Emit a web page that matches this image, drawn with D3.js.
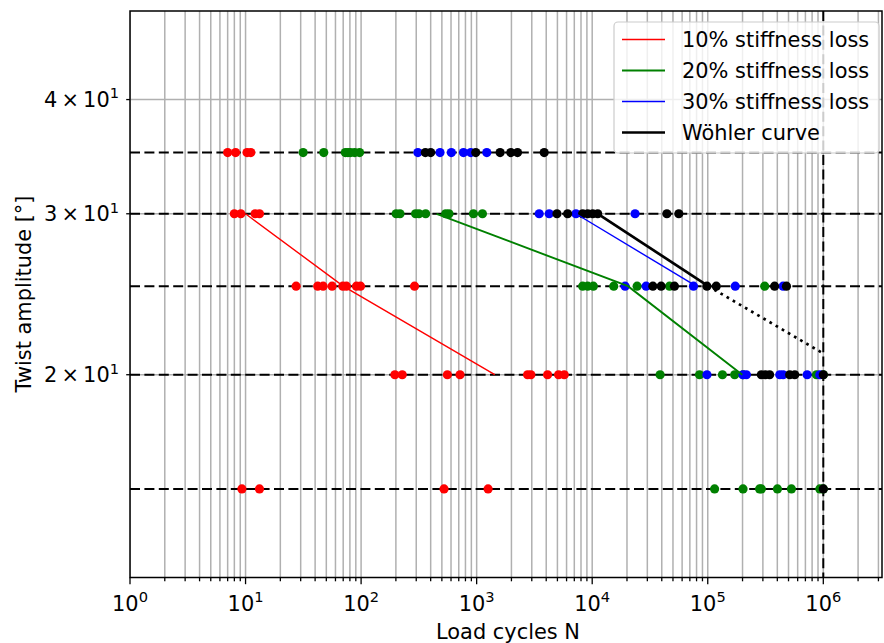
<!DOCTYPE html>
<html>
<head>
<meta charset="utf-8">
<script src="https://cdn.jsdelivr.net/npm/d3@7"></script>
<style>
  html, body { margin: 0; padding: 0; background: #fff; }
  svg { display: block; font-family: "DejaVu Sans", sans-serif; }
</style>
</head>
<body>
<svg id="chart" width="884" height="643"></svg>
<script>
// ---------------- data ----------------
const stressLevels = [35, 30, 25, 20, 15];          // dashed reference rows
const runoutN = 1e6;                               // vertical dashed line
const xTickExponents = [0, 1, 2, 3, 4, 5, 6];
const yTickValues = [20, 30, 40];
const yTickMantissa = ["2", "3", "4"];

// points [N, amplitude]
const loss10 = [
  [7.0,35],[8.2,35],[10.3,35],[11.1,35],
  [8.0,30],[9.1,30],[12.1,30],[13.2,30],
  [27.4,25],[42.1,25],[46.9,25],[56.1,25],[69.5,25],[74.7,25],[91.2,25],[98.8,25],[290,25],
  [196,20],[227,20],[558,20],[718,20],[2760,20],[2945,20],[4110,20],[5120,20],[5730,20],
  [9.3,15],[13.2,15],[522,15],[1256,15]
];
const loss20 = [
  [31.5,35],[47.5,35],[73,35],[77,35],[81,35],[88,35],[97,35],
  [201,30],[217,30],[296,30],[317,30],[362,30],[540,30],[576,30],[938,30],[1122,30],
  [8270,25],[9140,25],[10230,25],[15360,25],[24480,25],[46700,25],[311000,25],
  [38700,20],[84900,20],[134000,20],[171000,20],[202000,20],[873000,20],[1000000,20],
  [114600,15],[202000,15],[281000,15],[291000,15],[401000,15],[530000,15],[933000,15],[1000000,15]
];
const loss30 = [
  [310,35],[482,35],[604,35],[769,35],[889,35],[1224,35],
  [3477,30],[4246,30],[7231,30],[23500,30],
  [19260,25],[29300,25],[75300,25],[173000,25],[449000,25],
  [98400,20],[202000,20],[216000,20],[420000,20],[449000,20],[725000,20],[933000,20]
];
const wohlerPts = [
  [360,35],[400,35],[982,35],[1596,35],[1976,35],[2258,35],[3843,35],
  [4955,30],[6128,30],[8270,30],[9143,30],[10100,30],[11160,30],[44300,30],[56200,30],
  [33500,25],[39500,25],[51500,25],[98400,25],[118500,25],[379000,25],[480000,25],
  [291000,20],[315000,20],[343000,20],[512000,20],[566000,20],[1000000,20],
  [1000000,15]
];

// fitted curves [N, amplitude]
const curve10 = [[10,30],[70,25],[1435,20]];
const curve20 = [[450,30],[20400,25],[199000,20]];
const curve30 = [[7230,30],[79400,25]];
const curveWohler = [[11200,30],[101000,25]];
const curveWohlerExt = [[101000,25],[1000000,21.1]];

const legendLabels = ["10% stiffness loss", "20% stiffness loss", "30% stiffness loss", "Wöhler curve"];

// ---------------- layout ----------------
const svg = d3.select("#chart");
const L = 130, R = 882, T = 11, B = 577.5;
const x = d3.scaleLog().domain([1, Math.pow(10, 6.508)]).range([L, R]);
const y = d3.scaleLog().domain([12, 50]).range([B, T]);
const FS = 20.9;
const gridCol = "#b0b0b0";

svg.append("defs").append("clipPath").attr("id", "plotclip")
  .append("rect").attr("x", L).attr("y", T).attr("width", R - L).attr("height", B - T);

// x grid (major + minor)
const xGridVals = [];
for (let e = 0; e <= 6; e++) {
  for (let m = 1; m <= 9; m++) {
    const v = m * Math.pow(10, e);
    if (v <= x.domain()[1]) xGridVals.push(v);
  }
}
const plot = svg.append("g").attr("clip-path", "url(#plotclip)");
plot.selectAll("line.xg").data(xGridVals).enter().append("line")
  .attr("x1", d => x(d)).attr("x2", d => x(d)).attr("y1", T).attr("y2", B)
  .attr("stroke", gridCol).attr("stroke-width", 1.5);
plot.selectAll("line.yg").data(yTickValues).enter().append("line")
  .attr("y1", d => y(d)).attr("y2", d => y(d)).attr("x1", L).attr("x2", R)
  .attr("stroke", gridCol).attr("stroke-width", 1.5);

// dashed reference lines
plot.selectAll("line.hl").data(stressLevels).enter().append("line")
  .attr("y1", d => y(d)).attr("y2", d => y(d)).attr("x1", L).attr("x2", R)
  .attr("stroke", "#000").attr("stroke-width", 2).attr("stroke-dasharray", "10,4.4");
plot.append("line")
  .attr("x1", x(runoutN)).attr("x2", x(runoutN)).attr("y1", T).attr("y2", B)
  .attr("stroke", "#000").attr("stroke-width", 2).attr("stroke-dasharray", "10,4.4");

const line = d3.line().x(d => x(d[0])).y(d => y(d[1]));

function drawPts(data, col) {
  plot.append("g").selectAll("circle").data(data).enter().append("circle")
    .attr("cx", d => x(d[0])).attr("cy", d => y(d[1])).attr("r", 4.6)
    .attr("fill", col);
}
drawPts(loss10, "#ff0000");
drawPts(loss20, "#008000");
drawPts(loss30, "#0000ff");
drawPts(wohlerPts, "#000000");

plot.append("path").datum(curve10).attr("d", line).attr("fill", "none")
  .attr("stroke", "#ff0000").attr("stroke-width", 1.4);
plot.append("path").datum(curve20).attr("d", line).attr("fill", "none")
  .attr("stroke", "#008000").attr("stroke-width", 1.9);
plot.append("path").datum(curve30).attr("d", line).attr("fill", "none")
  .attr("stroke", "#0000ff").attr("stroke-width", 1.4);
plot.append("path").datum(curveWohler).attr("d", line).attr("fill", "none")
  .attr("stroke", "#000").attr("stroke-width", 2.7);
plot.append("path").datum(curveWohlerExt).attr("d", line).attr("fill", "none")
  .attr("stroke", "#000").attr("stroke-width", 2.7).attr("stroke-dasharray", "2.7,4.4");

// spines
svg.append("rect").attr("x", L).attr("y", T).attr("width", R - L).attr("height", B - T)
  .attr("fill", "none").attr("stroke", "#000").attr("stroke-width", 1.5);

// x ticks
const xMajor = xTickExponents.map(e => Math.pow(10, e));
svg.selectAll("line.xt").data(xGridVals).enter().append("line")
  .attr("x1", d => x(d)).attr("x2", d => x(d)).attr("y1", B)
  .attr("y2", d => B + (xMajor.includes(d) ? 6.7 : 3.8))
  .attr("stroke", "#000").attr("stroke-width", 1.3);
const xl = svg.selectAll("text.xl").data(xTickExponents).enter().append("text")
  .attr("x", d => x(Math.pow(10, d))).attr("y", 611)
  .attr("text-anchor", "middle").attr("font-size", FS).attr("fill", "#000");
xl.append("tspan").text("10");
xl.append("tspan").attr("dy", -8.7).attr("font-size", FS * 0.7).text(d => d);

// y ticks
svg.selectAll("line.yt").data(yTickValues).enter().append("line")
  .attr("y1", d => y(d)).attr("y2", d => y(d)).attr("x1", L).attr("x2", L - 3.8)
  .attr("stroke", "#000").attr("stroke-width", 1.3);
const yl = svg.selectAll("text.yl").data(yTickValues).enter().append("text")
  .attr("x", L - 11).attr("y", d => y(d) + 7.5)
  .attr("text-anchor", "end").attr("font-size", FS).attr("fill", "#000");
yl.append("tspan").text((d, i) => yTickMantissa[i] + "\u2009×\u200910");
yl.append("tspan").attr("dy", -8.7).attr("font-size", FS * 0.7).text("1");

// axis labels
svg.append("text").attr("x", 508).attr("y", 639).attr("text-anchor", "middle")
  .attr("font-size", FS).text("Load cycles N");
svg.append("text").attr("transform", "translate(31,294) rotate(-90)")
  .attr("text-anchor", "middle").attr("font-size", FS).text("Twist amplitude [°]");

// legend
const lg = svg.append("g");
lg.append("rect").attr("x", 614).attr("y", 22).attr("width", 265).attr("height", 131)
  .attr("rx", 4).attr("fill", "rgba(255,255,255,0.8)").attr("stroke", "#cccccc").attr("stroke-width", 1.2);
const legCols = ["#ff0000", "#008000", "#0000ff", "#000000"];
const legW = [1.4, 1.9, 1.4, 2.7];
legendLabels.forEach((lab, i) => {
  const yy = 39.5 + i * 31;
  lg.append("line").attr("x1", 622).attr("x2", 665).attr("y1", yy).attr("y2", yy)
    .attr("stroke", legCols[i]).attr("stroke-width", legW[i]);
  lg.append("text").attr("x", 682).attr("y", yy + 7.3).attr("font-size", FS).text(lab);
});
</script>
</body>
</html>
